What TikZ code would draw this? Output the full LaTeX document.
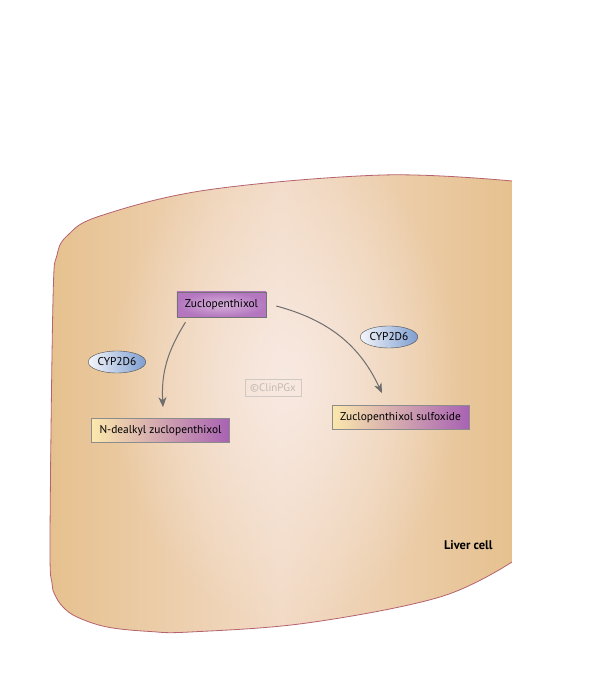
\documentclass[tikz,border=0pt]{standalone}
\usepackage{fontspec}
\setmainfont{PT Sans}
\usepackage{xcolor}
\definecolor{celltan}{HTML}{E6C18F}
\definecolor{cellmid}{HTML}{F2DAC5}
\definecolor{celllight}{HTML}{F8E9E1}
\definecolor{cellline}{HTML}{B5626E}
\definecolor{drugin}{HTML}{D8B2DA}
\definecolor{drugout}{HTML}{B376BF}
\definecolor{metyellow}{HTML}{FBE8AC}
\definecolor{metpurple}{HTML}{A862B3}
\definecolor{enzleft}{HTML}{F4F6FA}
\definecolor{enzright}{HTML}{7E9DD0}
\definecolor{arrowgray}{HTML}{6E6E6E}
\definecolor{markgray}{HTML}{C4BAB2}
\usepackage{tikz}
\usetikzlibrary{arrows.meta,positioning,shapes.geometric,fadings}
\tikzfading[name=fadecenter, inner color=transparent!0, outer color=transparent!100]
\tikzset{
  drug/.style    = {rectangle, draw=black!55, inner color=drugin, outer color=drugout,
                    minimum height=25pt, inner xsep=8pt, inner ysep=2pt,
                    font=\fontsize{11.4}{13}\selectfont},
  metab/.style   = {rectangle, draw=black!45, left color=metyellow, right color=metpurple,
                    minimum height=24pt, inner xsep=8pt, inner ysep=2pt,
                    font=\fontsize{11.4}{13}\selectfont},
  enzyme/.style  = {ellipse, draw=black!70, left color=enzleft, right color=enzright,
                    minimum width=52pt, minimum height=22pt, inner sep=1pt,
                    font=\fontsize{11.4}{13}\selectfont},
  wmark/.style   = {rectangle, draw=markgray!80, text=markgray, inner sep=2pt,
                    minimum width=56pt, minimum height=17pt,
                    font=\fontsize{11}{13}\selectfont},
  arr/.style     = {-{Stealth[length=10pt, width=8pt, inset=3pt, fill=arrowgray]},
                    line width=1pt, draw=arrowgray}
}
\begin{document}
\begin{tikzpicture}[x=1pt, y=1pt, node distance=88pt]
  \useasboundingbox (0,0) rectangle (600,700);
  \begin{scope}
    \clip plot[smooth, tension=0.6] coordinates {(512,519) (383,525) (207,510) (100,484)
      (68,465) (57,445) (53,400) (50,160) (52,117) (55,105) (63,93) (77,83) (107,73)
      (150,68.5) (190,68) (307,77) (440,103) (512,138)} -- cycle;
    \shade[left color=celltan, right color=celltan, middle color=cellmid]
      (50,60) rectangle (512,530);
    \fill[celllight, path fading=fadecenter] (285,320) ellipse (175 and 250);
  \end{scope}
  \draw[cellline, line width=0.8pt] plot[smooth, tension=0.6] coordinates {(512,519)
    (383,525) (207,510) (100,484) (68,465) (57,445) (53,400) (50,160) (52,117) (55,105)
    (63,93) (77,83) (107,73) (150,68.5) (190,68) (307,77) (440,103) (512,138)};

  \node[drug] (zuclo) at (221.5,395.5) {Zuclopenthixol};
  \node[metab, below=101pt of zuclo, xshift=-61pt] (ndealk) {N-dealkyl zuclopenthixol};
  \node[metab, below=88pt of zuclo, xshift=179pt] (sulfox) {Zuclopenthixol sulfoxide};
  \node[enzyme, above=45pt of ndealk, xshift=-43.5pt] (cypa) {CYP2D6};
  \node[enzyme, above=57pt of sulfox, xshift=-11.5pt] (cypb) {CYP2D6};
  \node[wmark] (clin) at (273,312.5) {©ClinPGx};
  \node[anchor=east, font=\bfseries\fontsize{12.5}{14}\selectfont] (liver) at (496,155) {Liver cell};

  \draw[arr] ([xshift=-36pt, yshift=-5pt]zuclo.south) to[out=238, in=93]
    ([xshift=2.5pt, yshift=11pt]ndealk.north);
  \draw[arr] ([xshift=10pt, yshift=-1.5pt]zuclo.east) to[out=-15, in=115]
    ([xshift=-18.5pt, yshift=12pt]sulfox.north);
\end{tikzpicture}
\end{document}
